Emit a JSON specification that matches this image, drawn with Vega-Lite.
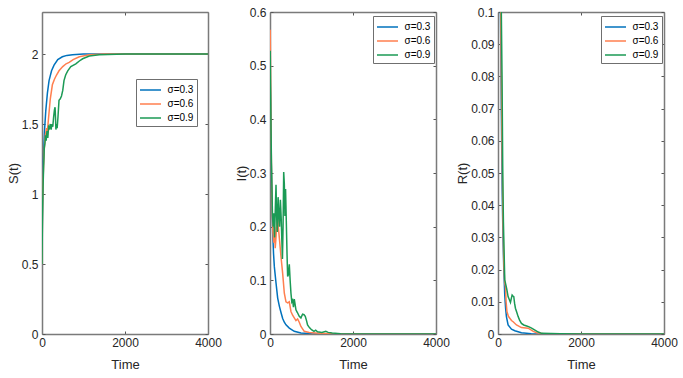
{
  "$schema": "https://vega.github.io/schema/vega-lite/v6.json",
  "background": "white",
  "padding": {"left": 7, "top": 6, "right": 5, "bottom": 5},
  "autosize": {"type": "pad"},
  "spacing": 62,
  "bounds": "flush",
  "datasets": {
    "S": [
      {"t":0,"s":"σ=0.3","v":0.5},{"t":10,"s":"σ=0.3","v":0.9},{"t":20,"s":"σ=0.3","v":1.1},{"t":40,"s":"σ=0.3","v":1.3},{"t":60,"s":"σ=0.3","v":1.45},{"t":90,"s":"σ=0.3","v":1.59},{"t":130,"s":"σ=0.3","v":1.72},{"t":170,"s":"σ=0.3","v":1.81},{"t":230,"s":"σ=0.3","v":1.88},{"t":290,"s":"σ=0.3","v":1.92},{"t":380,"s":"σ=0.3","v":1.96},{"t":490,"s":"σ=0.3","v":1.98},{"t":600,"s":"σ=0.3","v":1.99},{"t":735,"s":"σ=0.3","v":1.995},{"t":1000,"s":"σ=0.3","v":2},{"t":4000,"s":"σ=0.3","v":2},
      {"t":0,"s":"σ=0.6","v":0.5},{"t":10,"s":"σ=0.6","v":0.85},{"t":25,"s":"σ=0.6","v":1.1},{"t":50,"s":"σ=0.6","v":1.3},{"t":80,"s":"σ=0.6","v":1.42},{"t":110,"s":"σ=0.6","v":1.47},{"t":130,"s":"σ=0.6","v":1.45},{"t":160,"s":"σ=0.6","v":1.55},{"t":200,"s":"σ=0.6","v":1.68},{"t":250,"s":"σ=0.6","v":1.78},{"t":300,"s":"σ=0.6","v":1.82},{"t":350,"s":"σ=0.6","v":1.85},{"t":410,"s":"σ=0.6","v":1.88},{"t":500,"s":"σ=0.6","v":1.91},{"t":580,"s":"σ=0.6","v":1.93},{"t":655,"s":"σ=0.6","v":1.94},{"t":750,"s":"σ=0.6","v":1.96},{"t":900,"s":"σ=0.6","v":1.98},{"t":1140,"s":"σ=0.6","v":1.995},{"t":1500,"s":"σ=0.6","v":2},{"t":4000,"s":"σ=0.6","v":2},
      {"t":0,"s":"σ=0.9","v":0.5},{"t":10,"s":"σ=0.9","v":0.8},{"t":25,"s":"σ=0.9","v":1.05},{"t":40,"s":"σ=0.9","v":1.2},{"t":55,"s":"σ=0.9","v":1.33},{"t":70,"s":"σ=0.9","v":1.36},{"t":85,"s":"σ=0.9","v":1.42},{"t":100,"s":"σ=0.9","v":1.38},{"t":120,"s":"σ=0.9","v":1.45},{"t":140,"s":"σ=0.9","v":1.4},{"t":160,"s":"σ=0.9","v":1.48},{"t":180,"s":"σ=0.9","v":1.47},{"t":200,"s":"σ=0.9","v":1.5},{"t":220,"s":"σ=0.9","v":1.46},{"t":240,"s":"σ=0.9","v":1.5},{"t":260,"s":"σ=0.9","v":1.48},{"t":280,"s":"σ=0.9","v":1.55},{"t":300,"s":"σ=0.9","v":1.6},{"t":315,"s":"σ=0.9","v":1.62},{"t":325,"s":"σ=0.9","v":1.55},{"t":335,"s":"σ=0.9","v":1.46},{"t":350,"s":"σ=0.9","v":1.5},{"t":365,"s":"σ=0.9","v":1.47},{"t":385,"s":"σ=0.9","v":1.55},{"t":410,"s":"σ=0.9","v":1.67},{"t":440,"s":"σ=0.9","v":1.68},{"t":470,"s":"σ=0.9","v":1.7},{"t":500,"s":"σ=0.9","v":1.74},{"t":530,"s":"σ=0.9","v":1.81},{"t":570,"s":"σ=0.9","v":1.85},{"t":620,"s":"σ=0.9","v":1.88},{"t":695,"s":"σ=0.9","v":1.91},{"t":815,"s":"σ=0.9","v":1.93},{"t":900,"s":"σ=0.9","v":1.95},{"t":980,"s":"σ=0.9","v":1.966},{"t":1140,"s":"σ=0.9","v":1.985},{"t":1380,"s":"σ=0.9","v":1.995},{"t":2000,"s":"σ=0.9","v":2},{"t":4000,"s":"σ=0.9","v":2}
    ],
    "I": [
      {"t":0,"s":"σ=0.3","v":0.5},{"t":10,"s":"σ=0.3","v":0.45},{"t":20,"s":"σ=0.3","v":0.38},{"t":30,"s":"σ=0.3","v":0.32},{"t":40,"s":"σ=0.3","v":0.27},{"t":50,"s":"σ=0.3","v":0.23},{"t":65,"s":"σ=0.3","v":0.188},{"t":85,"s":"σ=0.3","v":0.15},{"t":105,"s":"σ=0.3","v":0.125},{"t":145,"s":"σ=0.3","v":0.095},{"t":185,"s":"σ=0.3","v":0.067},{"t":225,"s":"σ=0.3","v":0.052},{"t":265,"s":"σ=0.3","v":0.04},{"t":305,"s":"σ=0.3","v":0.029},{"t":345,"s":"σ=0.3","v":0.022},{"t":385,"s":"σ=0.3","v":0.017},{"t":465,"s":"σ=0.3","v":0.011},{"t":585,"s":"σ=0.3","v":0.005},{"t":745,"s":"σ=0.3","v":0.002},{"t":1000,"s":"σ=0.3","v":0.0005},{"t":1200,"s":"σ=0.3","v":0},{"t":4000,"s":"σ=0.3","v":0},
      {"t":0,"s":"σ=0.6","v":0.5},{"t":5,"s":"σ=0.6","v":0.567},{"t":12,"s":"σ=0.6","v":0.5},{"t":20,"s":"σ=0.6","v":0.42},{"t":30,"s":"σ=0.6","v":0.34},{"t":40,"s":"σ=0.6","v":0.28},{"t":55,"s":"σ=0.6","v":0.22},{"t":70,"s":"σ=0.6","v":0.19},{"t":90,"s":"σ=0.6","v":0.17},{"t":110,"s":"σ=0.6","v":0.2},{"t":125,"s":"σ=0.6","v":0.16},{"t":140,"s":"σ=0.6","v":0.175},{"t":160,"s":"σ=0.6","v":0.2},{"t":180,"s":"σ=0.6","v":0.23},{"t":200,"s":"σ=0.6","v":0.2},{"t":230,"s":"σ=0.6","v":0.175},{"t":265,"s":"σ=0.6","v":0.144},{"t":305,"s":"σ=0.6","v":0.113},{"t":345,"s":"σ=0.6","v":0.076},{"t":385,"s":"σ=0.6","v":0.06},{"t":425,"s":"σ=0.6","v":0.058},{"t":465,"s":"σ=0.6","v":0.06},{"t":505,"s":"σ=0.6","v":0.042},{"t":545,"s":"σ=0.6","v":0.035},{"t":585,"s":"σ=0.6","v":0.03},{"t":625,"s":"σ=0.6","v":0.025},{"t":665,"s":"σ=0.6","v":0.028},{"t":705,"s":"σ=0.6","v":0.022},{"t":745,"s":"σ=0.6","v":0.014},{"t":825,"s":"σ=0.6","v":0.005},{"t":945,"s":"σ=0.6","v":0.003},{"t":1100,"s":"σ=0.6","v":0.002},{"t":1300,"s":"σ=0.6","v":0.001},{"t":1600,"s":"σ=0.6","v":0},{"t":4000,"s":"σ=0.6","v":0},
      {"t":0,"s":"σ=0.9","v":0.5},{"t":5,"s":"σ=0.9","v":0.528},{"t":15,"s":"σ=0.9","v":0.45},{"t":25,"s":"σ=0.9","v":0.38},{"t":35,"s":"σ=0.9","v":0.32},{"t":45,"s":"σ=0.9","v":0.28},{"t":60,"s":"σ=0.9","v":0.22},{"t":75,"s":"σ=0.9","v":0.2},{"t":90,"s":"σ=0.9","v":0.225},{"t":110,"s":"σ=0.9","v":0.18},{"t":130,"s":"σ=0.9","v":0.24},{"t":145,"s":"σ=0.9","v":0.278},{"t":160,"s":"σ=0.9","v":0.22},{"t":175,"s":"σ=0.9","v":0.19},{"t":195,"s":"σ=0.9","v":0.255},{"t":215,"s":"σ=0.9","v":0.22},{"t":230,"s":"σ=0.9","v":0.2},{"t":250,"s":"σ=0.9","v":0.25},{"t":270,"s":"σ=0.9","v":0.215},{"t":285,"s":"σ=0.9","v":0.175},{"t":300,"s":"σ=0.9","v":0.14},{"t":315,"s":"σ=0.9","v":0.2},{"t":330,"s":"σ=0.9","v":0.302},{"t":345,"s":"σ=0.9","v":0.28},{"t":360,"s":"σ=0.9","v":0.22},{"t":375,"s":"σ=0.9","v":0.27},{"t":390,"s":"σ=0.9","v":0.22},{"t":410,"s":"σ=0.9","v":0.15},{"t":425,"s":"σ=0.9","v":0.107},{"t":440,"s":"σ=0.9","v":0.11},{"t":465,"s":"σ=0.9","v":0.13},{"t":485,"s":"σ=0.9","v":0.1},{"t":505,"s":"σ=0.9","v":0.076},{"t":525,"s":"σ=0.9","v":0.06},{"t":545,"s":"σ=0.9","v":0.063},{"t":565,"s":"σ=0.9","v":0.05},{"t":585,"s":"σ=0.9","v":0.065},{"t":605,"s":"σ=0.9","v":0.055},{"t":625,"s":"σ=0.9","v":0.045},{"t":660,"s":"σ=0.9","v":0.04},{"t":705,"s":"σ=0.9","v":0.033},{"t":745,"s":"σ=0.9","v":0.03},{"t":785,"s":"σ=0.9","v":0.037},{"t":820,"s":"σ=0.9","v":0.036},{"t":850,"s":"σ=0.9","v":0.033},{"t":880,"s":"σ=0.9","v":0.025},{"t":905,"s":"σ=0.9","v":0.017},{"t":950,"s":"σ=0.9","v":0.012},{"t":1000,"s":"σ=0.9","v":0.008},{"t":1060,"s":"σ=0.9","v":0.005},{"t":1100,"s":"σ=0.9","v":0.007},{"t":1145,"s":"σ=0.9","v":0.004},{"t":1250,"s":"σ=0.9","v":0.003},{"t":1345,"s":"σ=0.9","v":0.005},{"t":1400,"s":"σ=0.9","v":0.003},{"t":1500,"s":"σ=0.9","v":0.002},{"t":1700,"s":"σ=0.9","v":0.0005},{"t":2000,"s":"σ=0.9","v":0},{"t":4000,"s":"σ=0.9","v":0}
    ],
    "R": [
      {"t":0,"s":"σ=0.3","v":0.5},{"t":20,"s":"σ=0.3","v":0.28},{"t":40,"s":"σ=0.3","v":0.16},{"t":60,"s":"σ=0.3","v":0.1},{"t":80,"s":"σ=0.3","v":0.07},{"t":100,"s":"σ=0.3","v":0.045},{"t":120,"s":"σ=0.3","v":0.03},{"t":140,"s":"σ=0.3","v":0.02},{"t":163,"s":"σ=0.3","v":0.012},{"t":183,"s":"σ=0.3","v":0.008},{"t":203,"s":"σ=0.3","v":0.0054},{"t":243,"s":"σ=0.3","v":0.0028},{"t":325,"s":"σ=0.3","v":0.0015},{"t":405,"s":"σ=0.3","v":0.001},{"t":565,"s":"σ=0.3","v":0.0004},{"t":800,"s":"σ=0.3","v":0.0001},{"t":1000,"s":"σ=0.3","v":0},{"t":4000,"s":"σ=0.3","v":0},
      {"t":0,"s":"σ=0.6","v":0.5},{"t":20,"s":"σ=0.6","v":0.3},{"t":40,"s":"σ=0.6","v":0.17},{"t":60,"s":"σ=0.6","v":0.11},{"t":80,"s":"σ=0.6","v":0.08},{"t":100,"s":"σ=0.6","v":0.055},{"t":120,"s":"σ=0.6","v":0.035},{"t":140,"s":"σ=0.6","v":0.022},{"t":160,"s":"σ=0.6","v":0.016},{"t":180,"s":"σ=0.6","v":0.0147},{"t":195,"s":"σ=0.6","v":0.01},{"t":215,"s":"σ=0.6","v":0.007},{"t":250,"s":"σ=0.6","v":0.0055},{"t":284,"s":"σ=0.6","v":0.0049},{"t":325,"s":"σ=0.6","v":0.0042},{"t":365,"s":"σ=0.6","v":0.0038},{"t":445,"s":"σ=0.6","v":0.0028},{"t":565,"s":"σ=0.6","v":0.002},{"t":727,"s":"σ=0.6","v":0.0018},{"t":850,"s":"σ=0.6","v":0.0008},{"t":930,"s":"σ=0.6","v":0.0004},{"t":1100,"s":"σ=0.6","v":0.0001},{"t":1300,"s":"σ=0.6","v":0},{"t":4000,"s":"σ=0.6","v":0},
      {"t":0,"s":"σ=0.9","v":0.5},{"t":20,"s":"σ=0.9","v":0.32},{"t":40,"s":"σ=0.9","v":0.2},{"t":60,"s":"σ=0.9","v":0.13},{"t":80,"s":"σ=0.9","v":0.1},{"t":97,"s":"σ=0.9","v":0.08},{"t":115,"s":"σ=0.9","v":0.05},{"t":130,"s":"σ=0.9","v":0.035},{"t":146,"s":"σ=0.9","v":0.026},{"t":163,"s":"σ=0.9","v":0.0168},{"t":185,"s":"σ=0.9","v":0.0155},{"t":210,"s":"σ=0.9","v":0.014},{"t":243,"s":"σ=0.9","v":0.0116},{"t":270,"s":"σ=0.9","v":0.0108},{"t":300,"s":"σ=0.9","v":0.0098},{"t":320,"s":"σ=0.9","v":0.011},{"t":340,"s":"σ=0.9","v":0.0121},{"t":360,"s":"σ=0.9","v":0.0118},{"t":380,"s":"σ=0.9","v":0.0116},{"t":400,"s":"σ=0.9","v":0.0095},{"t":420,"s":"σ=0.9","v":0.008},{"t":450,"s":"σ=0.9","v":0.0068},{"t":485,"s":"σ=0.9","v":0.0054},{"t":520,"s":"σ=0.9","v":0.0043},{"t":565,"s":"σ=0.9","v":0.0033},{"t":620,"s":"σ=0.9","v":0.0028},{"t":690,"s":"σ=0.9","v":0.0025},{"t":750,"s":"σ=0.9","v":0.0022},{"t":810,"s":"σ=0.9","v":0.0018},{"t":890,"s":"σ=0.9","v":0.0012},{"t":970,"s":"σ=0.9","v":0.0006},{"t":1050,"s":"σ=0.9","v":0.0002},{"t":1500,"s":"σ=0.9","v":0.0001},{"t":2000,"s":"σ=0.9","v":0},{"t":4000,"s":"σ=0.9","v":0}
    ]
  },
  "hconcat": [
    {
      "width": 166, "height": 322,
      "data": {"name": "S"},
      "layer": [
        {
          "mark": {"type": "line", "strokeWidth": 1.5, "clip": true},
          "encoding": {
            "x": {"field": "t", "type": "quantitative", "scale": {"domain": [0, 4000], "nice": false}, "axis": {"orient": "bottom", "title": "Time", "values": [0, 2000, 4000], "format": "d"}},
            "y": {"field": "v", "type": "quantitative", "scale": {"domain": [0, 2.3], "nice": false, "zero": false}, "axis": {"orient": "left", "title": "S(t)", "values": [0, 0.5, 1, 1.5, 2], "format": "~g"}},
            "color": {"field": "s", "type": "nominal", "scale": {"domain": ["σ=0.3", "σ=0.6", "σ=0.9"], "range": ["#0072BD", "#FF7F4F", "#1B9A55"]},
              "legend": {"orient": "none", "legendX": 94, "legendY": 67}}
          }
        },
        {
          "mark": {"type": "line", "opacity": 0},
          "encoding": {
            "x": {"field": "t", "type": "quantitative", "scale": {"domain": [0, 4000], "nice": false}, "axis": {"orient": "top", "title": null, "labels": false, "values": [0, 2000, 4000]}},
            "y": {"field": "v", "type": "quantitative", "scale": {"domain": [0, 2.3], "nice": false, "zero": false}, "axis": {"orient": "right", "title": null, "labels": false, "values": [0, 0.5, 1, 1.5, 2]}}
          }
        }
      ],
      "resolve": {"axis": {"x": "independent", "y": "independent"}}
    },
    {
      "width": 166, "height": 322,
      "data": {"name": "I"},
      "layer": [
        {
          "mark": {"type": "line", "strokeWidth": 1.5, "clip": true},
          "encoding": {
            "x": {"field": "t", "type": "quantitative", "scale": {"domain": [0, 4000], "nice": false}, "axis": {"orient": "bottom", "title": "Time", "values": [0, 2000, 4000], "format": "d"}},
            "y": {"field": "v", "type": "quantitative", "scale": {"domain": [0, 0.6], "nice": false, "zero": false}, "axis": {"orient": "left", "title": "I(t)", "values": [0, 0.1, 0.2, 0.3, 0.4, 0.5, 0.6], "format": "~g"}},
            "color": {"field": "s", "type": "nominal", "scale": {"domain": ["σ=0.3", "σ=0.6", "σ=0.9"], "range": ["#0072BD", "#FF7F4F", "#1B9A55"]},
              "legend": {"orient": "none", "legendX": 103, "legendY": 4}}
          }
        },
        {
          "mark": {"type": "line", "opacity": 0},
          "encoding": {
            "x": {"field": "t", "type": "quantitative", "scale": {"domain": [0, 4000], "nice": false}, "axis": {"orient": "top", "title": null, "labels": false, "values": [0, 2000, 4000]}},
            "y": {"field": "v", "type": "quantitative", "scale": {"domain": [0, 0.6], "nice": false, "zero": false}, "axis": {"orient": "right", "title": null, "labels": false, "values": [0, 0.1, 0.2, 0.3, 0.4, 0.5, 0.6]}}
          }
        }
      ],
      "resolve": {"axis": {"x": "independent", "y": "independent"}}
    },
    {
      "width": 166, "height": 322,
      "data": {"name": "R"},
      "layer": [
        {
          "mark": {"type": "line", "strokeWidth": 1.5, "clip": true},
          "encoding": {
            "x": {"field": "t", "type": "quantitative", "scale": {"domain": [0, 4000], "nice": false}, "axis": {"orient": "bottom", "title": "Time", "values": [0, 2000, 4000], "format": "d"}},
            "y": {"field": "v", "type": "quantitative", "scale": {"domain": [0, 0.1], "nice": false, "zero": false}, "axis": {"orient": "left", "title": "R(t)", "values": [0, 0.01, 0.02, 0.03, 0.04, 0.05, 0.06, 0.07, 0.08, 0.09, 0.1], "format": "~g"}},
            "color": {"field": "s", "type": "nominal", "scale": {"domain": ["σ=0.3", "σ=0.6", "σ=0.9"], "range": ["#0072BD", "#FF7F4F", "#1B9A55"]},
              "legend": {"orient": "none", "legendX": 103, "legendY": 4}}
          }
        },
        {
          "mark": {"type": "line", "opacity": 0, "clip": true},
          "encoding": {
            "x": {"field": "t", "type": "quantitative", "scale": {"domain": [0, 4000], "nice": false}, "axis": {"orient": "top", "title": null, "labels": false, "values": [0, 2000, 4000]}},
            "y": {"field": "v", "type": "quantitative", "scale": {"domain": [0, 0.1], "nice": false, "zero": false}, "axis": {"orient": "right", "title": null, "labels": false, "values": [0, 0.01, 0.02, 0.03, 0.04, 0.05, 0.06, 0.07, 0.08, 0.09, 0.1]}}
          }
        }
      ],
      "resolve": {"axis": {"x": "independent", "y": "independent"}}
    }
  ],
  "resolve": {"scale": {"color": "independent"}},
  "config": {
    "view": {"stroke": null},
    "axis": {
      "grid": false,
      "domainColor": "#7a7a7a", "domainWidth": 1.5,
      "tickColor": "#555555", "tickSize": -3, "tickWidth": 1,
      "labelColor": "#262626", "titleColor": "#262626",
      "labelFont": "Liberation Sans", "titleFont": "Liberation Sans",
      "labelFontSize": 12, "titleFontSize": 13, "titleFontWeight": "normal",
      "labelFlush": false, "labelOverlap": false
    },
    "axisLeft": {"labelPadding": 7, "titlePadding": 1},
    "axisBottom": {"labelPadding": 6, "titlePadding": 10},
    "legend": {
      "title": null, "strokeColor": "#6f6f6f", "fillColor": "white", "padding": 3,
      "symbolType": "M-1.5,0H1.5", "symbolSize": 196, "symbolStrokeWidth": 1.5, "symbolOffset": 3.5,
      "labelFont": "Liberation Sans", "labelFontSize": 10, "labelColor": "#000000",
      "labelOffset": 9, "rowPadding": 1
    }
  }
}
